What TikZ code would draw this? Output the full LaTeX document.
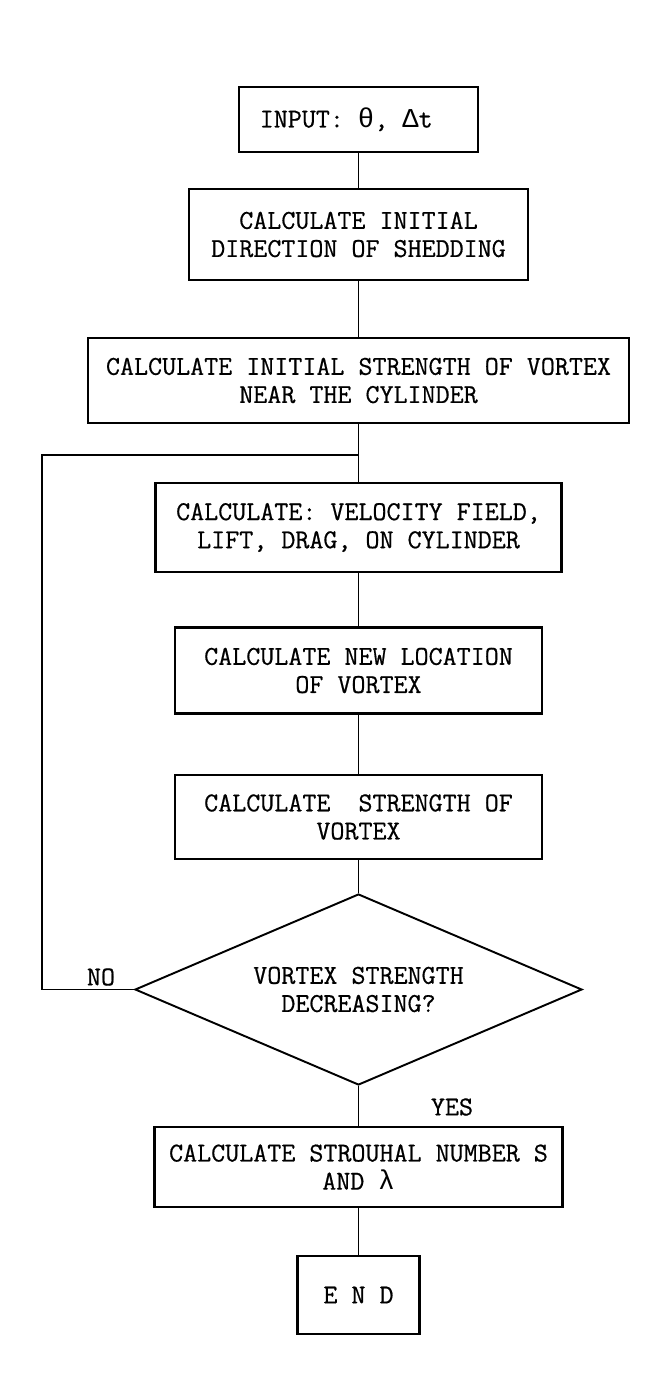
\documentclass[tikz,border=0pt]{standalone}
\usepackage{fontspec}
\setmonofont{Latin Modern Mono}[FakeBold=0.6]
\newfontfamily\grk{Liberation Mono}
\usepackage{tikz}
\usetikzlibrary{shapes.geometric}

\newcommand{\tw}{\ttfamily\bfseries\fontsize{15.5}{16}\selectfont}

\begin{document}
\begin{tikzpicture}[
  proc/.style={draw, line width=1.2pt, align=center, inner sep=0pt,
               font=\tw},
  test/.style={draw, diamond, aspect=2.34, line width=1.1pt,
               inner sep=0pt, align=center, font=\tw},
  lbl/.style={font=\tw},
  conn/.style={line width=1.1pt},
]
  \useasboundingbox (0,0) rectangle (13.30,-27.90);

  \node (in) at (7.17,-2.39) [proc, minimum width=4.78cm,
        minimum height=1.30cm] {INPUT: {\grk\mdseries θ}, {\grk\mdseries Δ}t\hspace{0.9em}};
  \node (dir) at (7.17,-4.69) [proc, minimum width=6.78cm,
        minimum height=1.82cm] {CALCULATE INITIAL\\DIRECTION OF SHEDDING};
  \node (str0) at (7.17,-7.61) [proc, minimum width=10.82cm,
        minimum height=1.70cm]
        {CALCULATE INITIAL STRENGTH OF VORTEX\\NEAR THE CYLINDER};
  \node (vel) at (7.17,-10.55) [proc, minimum width=8.12cm,
        minimum height=1.78cm]
        {CALCULATE: VELOCITY FIELD,\\LIFT, DRAG, ON CYLINDER};
  \node (loc) at (7.17,-13.41) [proc, minimum width=7.34cm,
        minimum height=1.72cm] {CALCULATE NEW LOCATION\\OF VORTEX};
  \node (str) at (7.17,-16.34) [proc, minimum width=7.34cm,
        minimum height=1.68cm] {CALCULATE\ \ STRENGTH OF\\VORTEX};
  \node (dec) at (7.17,-19.79) [test, minimum width=8.94cm,
        minimum height=3.82cm] {VORTEX STRENGTH\\DECREASING?};
  \node (sh) at (7.17,-23.34) [proc, minimum width=8.16cm,
        minimum height=1.60cm] {CALCULATE STROUHAL NUMBER S\\AND {\grk\mdseries λ}};
  \node (end) at (7.17,-25.90) [proc, minimum width=2.44cm,
        minimum height=1.56cm] {E N D};

  \node (no) at (2.02,-19.54) [lbl] {NO};
  \node (yes) at (9.04,-22.14) [lbl] {YES};

  \coordinate (ret) at (0.84,-9.10);
  \coordinate (jn) at (7.17,-9.10);

  \draw[conn] (in) -- (dir);
  \draw[conn] (dir) -- (str0);
  \draw[conn] (str0) -- (vel);
  \draw[conn] (vel) -- (loc);
  \draw[conn] (loc) -- (str);
  \draw[conn] (str) -- (dec);
  \draw[conn] (dec) -- (sh);
  \draw[conn] (sh) -- (end);
  \draw[conn] (dec.west) -| (ret) -- (jn);
\end{tikzpicture}
\end{document}
